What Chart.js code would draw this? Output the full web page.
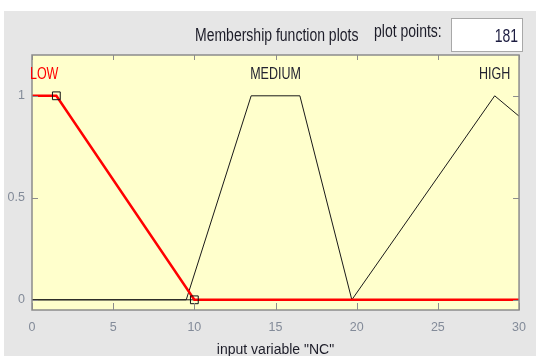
<!DOCTYPE html>
<html>
<head>
<meta charset="utf-8">
<script src="https://cdn.jsdelivr.net/npm/chart.js@4"></script>
<style>
  body { margin: 0; background: #fff; width: 536px; height: 356px; overflow: hidden; font-family: 'Liberation Sans', Arial, sans-serif; }
  #panel { position: absolute; left: 4px; top: 11px; width: 532px; height: 345px; background: #e6e6e6; }
  #chartBox { position: absolute; left: 0; top: 0; width: 532px; height: 345px; }
  .hdr { position: absolute; font-size: 14px; color: #1c1c28; white-space: nowrap; transform: scaleY(1.25); transform-origin: left top; }
  #ptsBox { position: absolute; left: 447px; top: 7px; width: 72px; height: 34px; background: #fff; border: 1px solid #a8a8a8; box-sizing: border-box; }
  #ptsBox span { position: absolute; right: 4px; top: 7px; font-size: 14px; color: #1c1c40; transform: scaleY(1.25); transform-origin: right top; }
</style>
</head>
<body>
<div id="panel">
  <div id="chartBox"><canvas id="mfChart"></canvas></div>
  <div class="hdr" style="left:191px; top:14px;">Membership function plots</div>
  <div class="hdr" style="left:370px; top:10px;">plot points:</div>
  <div id="ptsBox"><span>181</span></div>
</div>
<script>
// membership functions of input variable "NC"
const mfNames = ['LOW', 'MEDIUM', 'HIGH'];
const mfLabelX = [0.75, 15, 28.5];
const lowX = [0, 1.5, 10, 30];
const lowY = [1, 1, 0, 0];
const medX = [0, 9.5, 13.5, 16.5, 19.7, 30];
const medY = [0, 0, 1, 1, 0, 0];
const highX = [0, 19.7, 28.5, 30];
const highY = [0, 0, 1, 0.9];
const xTicks = [0, 5, 10, 15, 20, 25, 30];
const yTicks = [0, 0.5, 1];

const TICK_FONT = { family: "'Liberation Sans', Arial", size: 12.5 };
const TICK_COLOR = '#838b99';

function toPoints(xs, ys) { return xs.map((x, i) => ({ x: x, y: ys[i] })); }

// yellow background, inside tick marks, border and MF names
const mfDecor = {
    id: 'mfDecor',
    beforeDatasetsDraw(chart) {
        const a = chart.chartArea, ctx = chart.ctx;
        ctx.save();
        ctx.fillStyle = '#ffffcc';
        ctx.fillRect(a.left, a.top, a.right - a.left, a.bottom - a.top);
        ctx.restore();
    },
    afterDatasetsDraw(chart) {
        const a = chart.chartArea, ctx = chart.ctx;
        const xs = chart.scales.x, ys = chart.scales.y;
        ctx.save();
        ctx.strokeStyle = '#8c8c8c';
        ctx.lineWidth = 1;
        ctx.beginPath();
        xTicks.forEach(v => {
            const px = Math.round(xs.getPixelForValue(v)) + 0.5;
            ctx.moveTo(px, a.bottom); ctx.lineTo(px, a.bottom - 7);
            ctx.moveTo(px, a.top); ctx.lineTo(px, a.top + 5);
        });
        yTicks.forEach(v => {
            const py = Math.round(ys.getPixelForValue(v)) + 0.5;
            ctx.moveTo(a.left, py); ctx.lineTo(a.left + 6, py);
            ctx.moveTo(a.right, py); ctx.lineTo(a.right - 6, py);
        });
        ctx.stroke();
        ctx.lineWidth = 1.5;
        ctx.strokeRect(a.left, a.top, a.right - a.left, a.bottom - a.top);

        // names stretched a little in height, like the original panel
        ctx.font = "12.5px 'Liberation Sans', Arial";
        ctx.textAlign = 'center';
        ctx.textBaseline = 'middle';
        mfNames.forEach((name, i) => {
            const px = xs.getPixelForValue(mfLabelX[i]);
            const py = ys.getPixelForValue(1.105);
            ctx.save();
            ctx.translate(px, py);
            ctx.scale(1, 1.3);
            ctx.fillStyle = i === 0 ? '#ff0000' : '#222230';
            ctx.fillText(name, 0, 0);
            ctx.restore();
        });
        ctx.restore();
    }
};

new Chart(document.getElementById('mfChart'), {
    type: 'scatter',
    data: {
        datasets: [
            { label: 'MEDIUM', data: toPoints(medX, medY), showLine: true, borderColor: '#1a1a1a', borderWidth: 1, pointRadius: 0, order: 2 },
            { label: 'HIGH', data: toPoints(highX, highY), showLine: true, borderColor: '#1a1a1a', borderWidth: 1, pointRadius: 0, order: 2 },
            {
                label: 'LOW', data: toPoints(lowX, lowY), showLine: true, borderColor: '#ff0000', borderWidth: 2.5,
                pointStyle: 'rect', pointRadius: [0, 5.5, 5.5, 0], pointBackgroundColor: 'rgba(0,0,0,0)',
                pointBorderColor: '#111', pointBorderWidth: 1, order: 1
            }
        ]
    },
    options: {
        responsive: true, maintainAspectRatio: false, animation: false,
        layout: { padding: { left: 0, right: 12, top: 44, bottom: 0 } },
        plugins: { legend: { display: false }, tooltip: { enabled: false } },
        scales: {
            x: {
                type: 'linear', min: 0, max: 30,
                afterBuildTicks: s => { s.ticks = xTicks.map(v => ({ value: v })); },
                afterFit: s => { s.height = 46; },
                grid: { display: false, drawTicks: false }, border: { display: false },
                ticks: { color: TICK_COLOR, font: TICK_FONT, padding: 10, maxRotation: 0, callback: v => String(v) },
                title: { display: true, text: 'input variable "NC"', color: '#1c1c28', font: { family: TICK_FONT.family, size: 14 }, padding: { top: 0, bottom: -3 } }
            },
            y: {
                min: -0.05, max: 1.2,
                afterBuildTicks: s => { s.ticks = yTicks.map(v => ({ value: v })); },
                afterFit: s => { s.width = 28; },
                grid: { display: false, drawTicks: false }, border: { display: false },
                ticks: { color: TICK_COLOR, font: TICK_FONT, padding: 7, callback: v => String(v) }
            }
        }
    },
    plugins: [mfDecor]
});
</script>
</body>
</html>
